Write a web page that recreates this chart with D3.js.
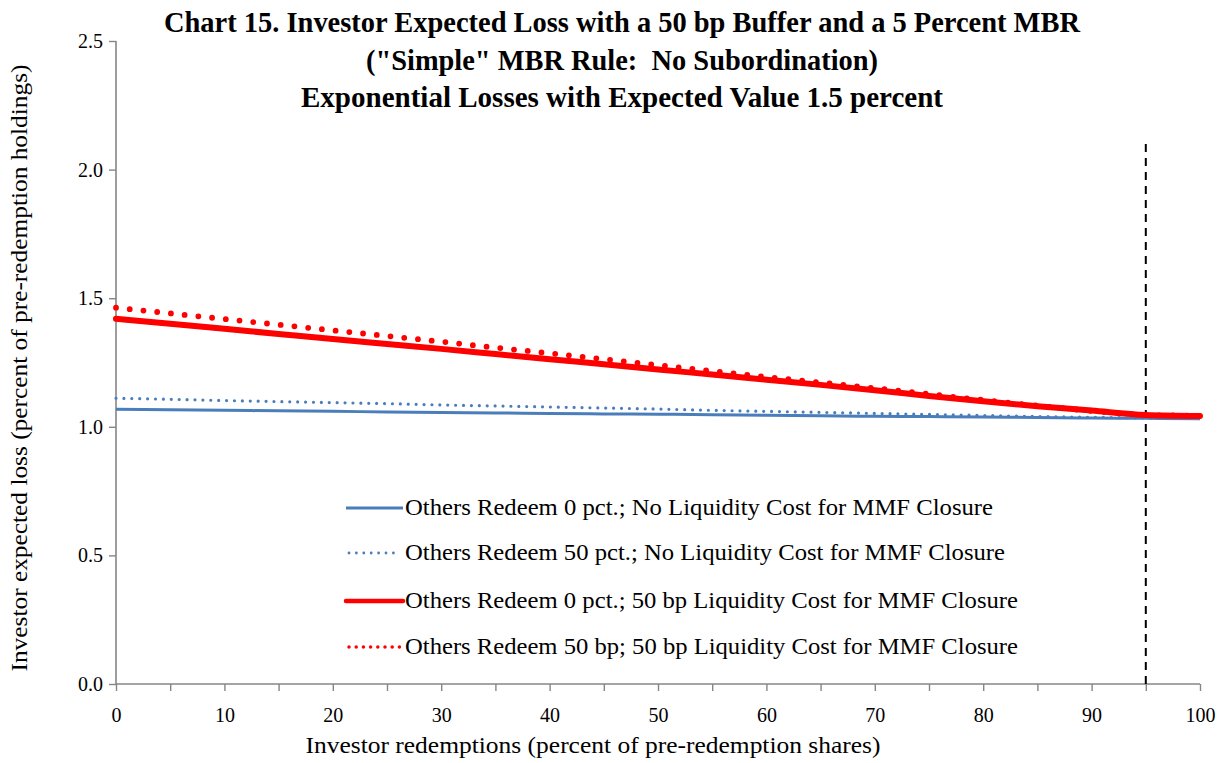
<!DOCTYPE html>
<html lang="en">
<head>
    <meta charset="UTF-8">
    <title>Chart 15. Investor Expected Loss</title>
    <script src="https://d3js.org/d3.v7.min.js"></script>
    <style>
        body { margin: 0; background: #fff; }
        svg text { font-family: "Liberation Serif", "DejaVu Serif", serif; fill: #000; white-space: pre; }
        .title { font-weight: bold; font-size: 29px; }
        .tick text { font-size: 20px; }
        .axis-label { font-size: 23px; }
        .legend text { font-size: 23.5px; }
    </style>
</head>
<body>
    <svg id="chart" width="1220" height="763"></svg>
    <script>
        // Data (x every 5 percent)
        const redemptions = [0, 5, 10, 15, 20, 25, 30, 35, 40, 45, 50, 55, 60, 65, 70, 75, 80, 85, 90, 95, 100];
        const blueSolid  = [1.068, 1.066, 1.064, 1.062, 1.060, 1.058, 1.056, 1.054, 1.052, 1.050, 1.049, 1.047, 1.045, 1.043, 1.041, 1.040, 1.038, 1.036, 1.034, 1.033, 1.031];
        const blueDotted = [1.111, 1.107, 1.102, 1.098, 1.094, 1.090, 1.085, 1.081, 1.077, 1.073, 1.069, 1.064, 1.060, 1.056, 1.052, 1.048, 1.044, 1.040, 1.037, 1.034, 1.032];
        const redSolid   = [1.420, 1.401, 1.381, 1.361, 1.341, 1.322, 1.303, 1.283, 1.263, 1.243, 1.223, 1.203, 1.183, 1.163, 1.142, 1.120, 1.099, 1.080, 1.063, 1.046, 1.042];
        const redDotted  = [1.463, 1.441, 1.419, 1.397, 1.375, 1.353, 1.331, 1.308, 1.286, 1.263, 1.240, 1.217, 1.194, 1.172, 1.150, 1.127, 1.104, 1.082, 1.062, 1.046, 1.043];
        const seriesNames = [
            "Others Redeem 0 pct.; No Liquidity Cost for MMF Closure",
            "Others Redeem 50 pct.; No Liquidity Cost for MMF Closure",
            "Others Redeem 0 pct.; 50 bp Liquidity Cost for MMF Closure",
            "Others Redeem 50 bp; 50 bp Liquidity Cost for MMF Closure"
        ];
        const yTicks = [0, 0.5, 1.0, 1.5, 2.0, 2.5];
        const xTicks = [0, 10, 20, 30, 40, 50, 60, 70, 80, 90, 100];
        const markerX = 95;
        const markerTop = 2.1;
        const titleLines = [
            "Chart 15. Investor Expected Loss with a 50 bp Buffer and a 5 Percent MBR",
            "(\"Simple\" MBR Rule:  No Subordination)",
            "Exponential Losses with Expected Value 1.5 percent"
        ];

        const svg = d3.select("#chart");
        const margin = { top: 41, right: 20, bottom: 79, left: 116 };
        const width = 1220 - margin.left - margin.right,
              height = 763 - margin.top - margin.bottom;

        const x = d3.scaleLinear().domain([0, 100]).range([0, width]);
        const y = d3.scaleLinear().domain([0, 2.5]).range([height, 0]);

        const g = svg.append("g").attr("transform", `translate(${margin.left},${margin.top})`);

        // styles per series: solid blue, dotted blue, thick red, dotted red
        const styles = [
            { color: "#4a7ebb", w: 3, dash: null, cap: "butt" },
            { color: "#4a7ebb", w: 3.2, dash: "0 7.9", cap: "round" },
            { color: "#ff0000", w: 6, dash: null, cap: "round" },
            { color: "#ff0000", w: 5.8, dash: "0 13.8", cap: "round" }
        ];
        const allSeries = [blueSolid, blueDotted, redSolid, redDotted];

        // axes
        const yAxis = g.append("g")
            .call(d3.axisLeft(y).tickValues(yTicks).tickFormat(d3.format(".1f")).tickSize(7).tickPadding(6));
        const xAxis = g.append("g").attr("transform", `translate(0,${height})`)
            .call(d3.axisBottom(x).tickValues(d3.range(0, 101, 5)).tickSize(7).tickPadding(17)
                .tickFormat(d => xTicks.includes(d) ? d : ""));
        [xAxis, yAxis].forEach(a => {
            a.select(".domain").attr("stroke", "#868686").attr("stroke-width", 1.6);
            a.selectAll(".tick line").attr("stroke", "#868686").attr("stroke-width", 1.4);
            a.selectAll(".tick text").style("font-family", "Liberation Serif, serif").attr("font-size", null);
        });
        xAxis.selectAll(".domain").attr("d", `M0,0H${width}`);
        yAxis.selectAll(".domain").attr("d", `M0,0V${height}`);

        // vertical marker line
        g.append("line")
            .attr("x1", x(markerX)).attr("x2", x(markerX))
            .attr("y1", y(markerTop)).attr("y2", y(0))
            .attr("stroke", "#000").attr("stroke-width", 2)
            .attr("stroke-dasharray", "8 6");

        const line = d3.line().x((d, i) => x(redemptions[i])).y(d => y(d)).curve(d3.curveMonotoneX);
        allSeries.forEach((s, i) => {
            const st = styles[i];
            g.append("path").datum(s)
                .attr("fill", "none")
                .attr("stroke", st.color)
                .attr("stroke-width", st.w)
                .attr("stroke-linecap", st.cap)
                .attr("stroke-linejoin", "round")
                .attr("stroke-dasharray", st.dash)
                .attr("d", line);
        });

        // legend
        const legendRows = [508, 553, 601, 647];
        const legendWidths = [588, 600, 613, 613];
        const legend = svg.append("g").attr("class", "legend");
        seriesNames.forEach((name, i) => {
            const st = styles[i];
            const row = legend.append("g").attr("transform", `translate(0,${legendRows[i]})`);
            row.append("line")
                .attr("x1", i % 2 ? 349 : 346).attr("x2", i % 2 ? 400 : 403)
                .attr("stroke", st.color)
                .attr("stroke-width", i === 2 ? 4.5 : (i === 3 ? 3.5 : 2.8))
                .attr("stroke-linecap", st.cap)
                .attr("stroke-dasharray", st.dash ? (i === 3 ? "0 7.2" : "0 7.4") : null);
            row.append("text").attr("x", 405).attr("y", 7)
                .attr("textLength", legendWidths[i]).attr("lengthAdjust", "spacingAndGlyphs")
                .text(name);
        });

        // axis titles
        svg.append("text").attr("class", "axis-label")
            .attr("x", 593).attr("y", 753).attr("text-anchor", "middle")
            .attr("textLength", 575).attr("lengthAdjust", "spacingAndGlyphs")
            .text("Investor redemptions (percent of pre-redemption shares)");
        svg.append("text").attr("class", "axis-label")
            .attr("transform", "translate(27,368) rotate(-90)").attr("text-anchor", "middle")
            .attr("textLength", 607).attr("lengthAdjust", "spacingAndGlyphs")
            .text("Investor expected loss (percent of pre-redemption holdings)");

        // title
        const titleWidths = [916, 512, 642];
        svg.append("g").selectAll("text").data(titleLines).enter().append("text")
            .attr("class", "title")
            .attr("x", 622).attr("y", (d, i) => 32 + i * 37.5)
            .attr("text-anchor", "middle")
            .attr("textLength", (d, i) => titleWidths[i]).attr("lengthAdjust", "spacingAndGlyphs")
            .text(d => d);
    </script>
</body>
</html>
